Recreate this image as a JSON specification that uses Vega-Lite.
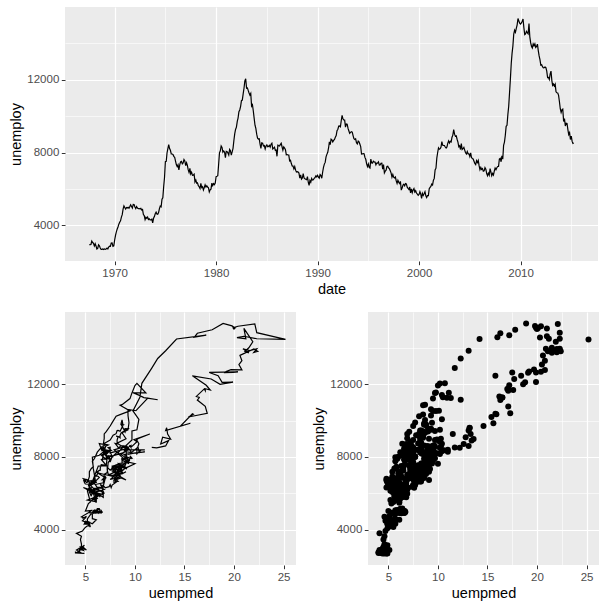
{"$schema":"https://vega.github.io/schema/vega-lite/v6.json","padding":{"left":8,"top":7,"right":8,"bottom":5},"config":{"font":"Liberation Sans","view":{"fill":"#EBEBEB","stroke":null},"axis":{"domain":false,"gridColor":"#FFFFFF","tickColor":"#333333","tickSize":3.7,"tickWidth":1,"labelColor":"#4D4D4D","labelFontSize":11.5,"labelPadding":2.5,"labelFlush":false,"labelOverlap":false,"titleFontSize":14.5,"titleFontWeight":"normal","titleColor":"#000000","titlePadding":3.5,"labelFont":"Liberation Sans","titleFont":"Liberation Sans"}},
"data":{"values":[
{"date":"1967-07-01","unemploy":2944,"uempmed":4.5},{"date":"1967-08-01","unemploy":2945,"uempmed":4.7},{"date":"1967-09-01","unemploy":2958,"uempmed":4.6},{"date":"1967-10-01","unemploy":3143,"uempmed":4.9},{"date":"1967-11-01","unemploy":3066,"uempmed":4.7},{"date":"1967-12-01","unemploy":3018,"uempmed":4.8},
{"date":"1968-01-01","unemploy":2878,"uempmed":5.1},{"date":"1968-02-01","unemploy":3001,"uempmed":4.5},{"date":"1968-03-01","unemploy":2877,"uempmed":4.1},{"date":"1968-04-01","unemploy":2709,"uempmed":4.6},{"date":"1968-05-01","unemploy":2740,"uempmed":4.4},{"date":"1968-06-01","unemploy":2938,"uempmed":4.4},{"date":"1968-07-01","unemploy":2883,"uempmed":4.5},{"date":"1968-08-01","unemploy":2768,"uempmed":4.2},{"date":"1968-09-01","unemploy":2686,"uempmed":4.6},{"date":"1968-10-01","unemploy":2689,"uempmed":4.8},{"date":"1968-11-01","unemploy":2715,"uempmed":4.4},{"date":"1968-12-01","unemploy":2685,"uempmed":4.4},
{"date":"1969-01-01","unemploy":2718,"uempmed":4.4},{"date":"1969-02-01","unemploy":2692,"uempmed":4.9},{"date":"1969-03-01","unemploy":2712,"uempmed":4.0},{"date":"1969-04-01","unemploy":2758,"uempmed":4.0},{"date":"1969-05-01","unemploy":2713,"uempmed":4.2},{"date":"1969-06-01","unemploy":2816,"uempmed":4.4},{"date":"1969-07-01","unemploy":2868,"uempmed":4.4},{"date":"1969-08-01","unemploy":2856,"uempmed":4.4},{"date":"1969-09-01","unemploy":3040,"uempmed":4.7},{"date":"1969-10-01","unemploy":3049,"uempmed":4.5},{"date":"1969-11-01","unemploy":2856,"uempmed":4.8},{"date":"1969-12-01","unemploy":2884,"uempmed":4.6},
{"date":"1970-01-01","unemploy":3201,"uempmed":4.6},{"date":"1970-02-01","unemploy":3453,"uempmed":4.5},{"date":"1970-03-01","unemploy":3635,"uempmed":4.6},{"date":"1970-04-01","unemploy":3797,"uempmed":4.1},{"date":"1970-05-01","unemploy":3919,"uempmed":4.7},{"date":"1970-06-01","unemploy":4071,"uempmed":4.9},{"date":"1970-07-01","unemploy":4175,"uempmed":5.1},{"date":"1970-08-01","unemploy":4256,"uempmed":5.4},{"date":"1970-09-01","unemploy":4456,"uempmed":5.2},{"date":"1970-10-01","unemploy":4591,"uempmed":5.2},{"date":"1970-11-01","unemploy":4898,"uempmed":5.6},{"date":"1970-12-01","unemploy":5076,"uempmed":5.9},
{"date":"1971-01-01","unemploy":4986,"uempmed":6.2},{"date":"1971-02-01","unemploy":4903,"uempmed":6.3},{"date":"1971-03-01","unemploy":4987,"uempmed":6.4},{"date":"1971-04-01","unemploy":4959,"uempmed":6.5},{"date":"1971-05-01","unemploy":4996,"uempmed":6.7},{"date":"1971-06-01","unemploy":4949,"uempmed":5.7},{"date":"1971-07-01","unemploy":5035,"uempmed":6.2},{"date":"1971-08-01","unemploy":5134,"uempmed":6.4},{"date":"1971-09-01","unemploy":5042,"uempmed":5.8},{"date":"1971-10-01","unemploy":4954,"uempmed":6.5},{"date":"1971-11-01","unemploy":5161,"uempmed":6.4},{"date":"1971-12-01","unemploy":5154,"uempmed":6.2},
{"date":"1972-01-01","unemploy":5019,"uempmed":6.2},{"date":"1972-02-01","unemploy":4928,"uempmed":6.6},{"date":"1972-03-01","unemploy":5038,"uempmed":6.6},{"date":"1972-04-01","unemploy":4959,"uempmed":6.7},{"date":"1972-05-01","unemploy":4922,"uempmed":6.6},{"date":"1972-06-01","unemploy":4923,"uempmed":5.4},{"date":"1972-07-01","unemploy":4913,"uempmed":6.1},{"date":"1972-08-01","unemploy":4939,"uempmed":6.0},{"date":"1972-09-01","unemploy":4849,"uempmed":5.6},{"date":"1972-10-01","unemploy":4875,"uempmed":5.7},{"date":"1972-11-01","unemploy":4602,"uempmed":5.7},{"date":"1972-12-01","unemploy":4543,"uempmed":6.1},
{"date":"1973-01-01","unemploy":4326,"uempmed":5.7},{"date":"1973-02-01","unemploy":4452,"uempmed":5.2},{"date":"1973-03-01","unemploy":4394,"uempmed":5.5},{"date":"1973-04-01","unemploy":4459,"uempmed":5.0},{"date":"1973-05-01","unemploy":4329,"uempmed":4.9},{"date":"1973-06-01","unemploy":4363,"uempmed":5.0},{"date":"1973-07-01","unemploy":4305,"uempmed":5.2},{"date":"1973-08-01","unemploy":4305,"uempmed":4.9},{"date":"1973-09-01","unemploy":4350,"uempmed":5.4},{"date":"1973-10-01","unemploy":4144,"uempmed":5.5},{"date":"1973-11-01","unemploy":4396,"uempmed":5.1},{"date":"1973-12-01","unemploy":4489,"uempmed":4.7},
{"date":"1974-01-01","unemploy":4644,"uempmed":5.0},{"date":"1974-02-01","unemploy":4731,"uempmed":5.1},{"date":"1974-03-01","unemploy":4634,"uempmed":4.8},{"date":"1974-04-01","unemploy":4618,"uempmed":5.0},{"date":"1974-05-01","unemploy":4705,"uempmed":4.6},{"date":"1974-06-01","unemploy":4927,"uempmed":5.3},{"date":"1974-07-01","unemploy":5063,"uempmed":5.7},{"date":"1974-08-01","unemploy":5022,"uempmed":5.0},{"date":"1974-09-01","unemploy":5437,"uempmed":5.3},{"date":"1974-10-01","unemploy":5523,"uempmed":5.5},{"date":"1974-11-01","unemploy":6140,"uempmed":5.2},{"date":"1974-12-01","unemploy":6636,"uempmed":5.7},
{"date":"1975-01-01","unemploy":7501,"uempmed":6.3},{"date":"1975-02-01","unemploy":7520,"uempmed":7.1},{"date":"1975-03-01","unemploy":7978,"uempmed":7.2},{"date":"1975-04-01","unemploy":8210,"uempmed":8.7},{"date":"1975-05-01","unemploy":8433,"uempmed":9.4},{"date":"1975-06-01","unemploy":8220,"uempmed":8.8},{"date":"1975-07-01","unemploy":8127,"uempmed":8.6},{"date":"1975-08-01","unemploy":7928,"uempmed":9.2},{"date":"1975-09-01","unemploy":7923,"uempmed":9.2},{"date":"1975-10-01","unemploy":7897,"uempmed":8.6},{"date":"1975-11-01","unemploy":7794,"uempmed":9.5},{"date":"1975-12-01","unemploy":7744,"uempmed":9.0},
{"date":"1976-01-01","unemploy":7534,"uempmed":9.0},{"date":"1976-02-01","unemploy":7326,"uempmed":8.2},{"date":"1976-03-01","unemploy":7230,"uempmed":8.7},{"date":"1976-04-01","unemploy":7330,"uempmed":8.2},{"date":"1976-05-01","unemploy":7053,"uempmed":8.3},{"date":"1976-06-01","unemploy":7322,"uempmed":7.8},{"date":"1976-07-01","unemploy":7490,"uempmed":7.7},{"date":"1976-08-01","unemploy":7518,"uempmed":7.9},{"date":"1976-09-01","unemploy":7380,"uempmed":7.8},{"date":"1976-10-01","unemploy":7430,"uempmed":7.7},{"date":"1976-11-01","unemploy":7620,"uempmed":8.4},{"date":"1976-12-01","unemploy":7545,"uempmed":8.0},
{"date":"1977-01-01","unemploy":7280,"uempmed":7.5},{"date":"1977-02-01","unemploy":7443,"uempmed":7.2},{"date":"1977-03-01","unemploy":7307,"uempmed":7.2},{"date":"1977-04-01","unemploy":7059,"uempmed":7.3},{"date":"1977-05-01","unemploy":6911,"uempmed":7.9},{"date":"1977-06-01","unemploy":7134,"uempmed":6.2},{"date":"1977-07-01","unemploy":6829,"uempmed":7.1},{"date":"1977-08-01","unemploy":6925,"uempmed":7.0},{"date":"1977-09-01","unemploy":6751,"uempmed":6.7},{"date":"1977-10-01","unemploy":6763,"uempmed":6.9},{"date":"1977-11-01","unemploy":6815,"uempmed":7.0},{"date":"1977-12-01","unemploy":6386,"uempmed":6.8},
{"date":"1978-01-01","unemploy":6489,"uempmed":6.5},{"date":"1978-02-01","unemploy":6318,"uempmed":6.7},{"date":"1978-03-01","unemploy":6337,"uempmed":6.2},{"date":"1978-04-01","unemploy":6180,"uempmed":6.1},{"date":"1978-05-01","unemploy":6127,"uempmed":5.7},{"date":"1978-06-01","unemploy":6028,"uempmed":6.0},{"date":"1978-07-01","unemploy":6309,"uempmed":5.8},{"date":"1978-08-01","unemploy":6080,"uempmed":5.8},{"date":"1978-09-01","unemploy":6125,"uempmed":5.6},{"date":"1978-10-01","unemploy":5947,"uempmed":5.9},{"date":"1978-11-01","unemploy":6077,"uempmed":5.5},{"date":"1978-12-01","unemploy":6228,"uempmed":5.6},
{"date":"1979-01-01","unemploy":6109,"uempmed":5.9},{"date":"1979-02-01","unemploy":6173,"uempmed":5.9},{"date":"1979-03-01","unemploy":6109,"uempmed":5.9},{"date":"1979-04-01","unemploy":6069,"uempmed":5.4},{"date":"1979-05-01","unemploy":5840,"uempmed":5.6},{"date":"1979-06-01","unemploy":5959,"uempmed":5.6},{"date":"1979-07-01","unemploy":5996,"uempmed":5.9},{"date":"1979-08-01","unemploy":6320,"uempmed":4.8},{"date":"1979-09-01","unemploy":6190,"uempmed":5.5},{"date":"1979-10-01","unemploy":6296,"uempmed":5.5},{"date":"1979-11-01","unemploy":6238,"uempmed":5.3},{"date":"1979-12-01","unemploy":6325,"uempmed":5.7},
{"date":"1980-01-01","unemploy":6683,"uempmed":5.3},{"date":"1980-02-01","unemploy":6702,"uempmed":5.8},{"date":"1980-03-01","unemploy":6729,"uempmed":6.0},{"date":"1980-04-01","unemploy":7358,"uempmed":5.8},{"date":"1980-05-01","unemploy":7984,"uempmed":5.7},{"date":"1980-06-01","unemploy":8098,"uempmed":6.4},{"date":"1980-07-01","unemploy":8363,"uempmed":7.0},{"date":"1980-08-01","unemploy":8281,"uempmed":7.5},{"date":"1980-09-01","unemploy":8021,"uempmed":7.7},{"date":"1980-10-01","unemploy":8088,"uempmed":7.5},{"date":"1980-11-01","unemploy":8023,"uempmed":7.7},{"date":"1980-12-01","unemploy":7718,"uempmed":7.5},
{"date":"1981-01-01","unemploy":8071,"uempmed":7.4},{"date":"1981-02-01","unemploy":8051,"uempmed":7.1},{"date":"1981-03-01","unemploy":7982,"uempmed":7.1},{"date":"1981-04-01","unemploy":7869,"uempmed":7.4},{"date":"1981-05-01","unemploy":8174,"uempmed":6.9},{"date":"1981-06-01","unemploy":8098,"uempmed":6.6},{"date":"1981-07-01","unemploy":7863,"uempmed":7.1},{"date":"1981-08-01","unemploy":8036,"uempmed":7.2},{"date":"1981-09-01","unemploy":8230,"uempmed":6.8},{"date":"1981-10-01","unemploy":8646,"uempmed":6.8},{"date":"1981-11-01","unemploy":9029,"uempmed":6.9},{"date":"1981-12-01","unemploy":9267,"uempmed":6.9},
{"date":"1982-01-01","unemploy":9397,"uempmed":7.1},{"date":"1982-02-01","unemploy":9705,"uempmed":7.5},{"date":"1982-03-01","unemploy":9895,"uempmed":7.7},{"date":"1982-04-01","unemploy":10244,"uempmed":8.1},{"date":"1982-05-01","unemploy":10335,"uempmed":8.5},{"date":"1982-06-01","unemploy":10538,"uempmed":9.5},{"date":"1982-07-01","unemploy":10849,"uempmed":8.5},{"date":"1982-08-01","unemploy":10881,"uempmed":8.7},{"date":"1982-09-01","unemploy":11217,"uempmed":9.5},{"date":"1982-10-01","unemploy":11529,"uempmed":9.7},{"date":"1982-11-01","unemploy":11938,"uempmed":10.0},{"date":"1982-12-01","unemploy":12051,"uempmed":10.2},
{"date":"1983-01-01","unemploy":11534,"uempmed":11.1},{"date":"1983-02-01","unemploy":11545,"uempmed":9.8},{"date":"1983-03-01","unemploy":11408,"uempmed":10.4},{"date":"1983-04-01","unemploy":11268,"uempmed":10.9},{"date":"1983-05-01","unemploy":11154,"uempmed":12.3},{"date":"1983-06-01","unemploy":11246,"uempmed":11.3},{"date":"1983-07-01","unemploy":10548,"uempmed":10.1},{"date":"1983-08-01","unemploy":10623,"uempmed":9.3},{"date":"1983-09-01","unemploy":10282,"uempmed":9.3},{"date":"1983-10-01","unemploy":9887,"uempmed":9.4},{"date":"1983-11-01","unemploy":9499,"uempmed":9.3},{"date":"1983-12-01","unemploy":9331,"uempmed":8.7},
{"date":"1984-01-01","unemploy":9008,"uempmed":9.1},{"date":"1984-02-01","unemploy":8791,"uempmed":8.3},{"date":"1984-03-01","unemploy":8746,"uempmed":8.3},{"date":"1984-04-01","unemploy":8762,"uempmed":8.2},{"date":"1984-05-01","unemploy":8456,"uempmed":9.1},{"date":"1984-06-01","unemploy":8226,"uempmed":7.5},{"date":"1984-07-01","unemploy":8537,"uempmed":7.5},{"date":"1984-08-01","unemploy":8519,"uempmed":7.3},{"date":"1984-09-01","unemploy":8367,"uempmed":7.6},{"date":"1984-10-01","unemploy":8381,"uempmed":7.2},{"date":"1984-11-01","unemploy":8198,"uempmed":7.2},{"date":"1984-12-01","unemploy":8358,"uempmed":7.3},
{"date":"1985-01-01","unemploy":8423,"uempmed":6.8},{"date":"1985-02-01","unemploy":8321,"uempmed":7.1},{"date":"1985-03-01","unemploy":8339,"uempmed":7.1},{"date":"1985-04-01","unemploy":8395,"uempmed":6.9},{"date":"1985-05-01","unemploy":8302,"uempmed":6.9},{"date":"1985-06-01","unemploy":8460,"uempmed":6.6},{"date":"1985-07-01","unemploy":8513,"uempmed":6.9},{"date":"1985-08-01","unemploy":8196,"uempmed":7.1},{"date":"1985-09-01","unemploy":8248,"uempmed":6.9},{"date":"1985-10-01","unemploy":8298,"uempmed":7.1},{"date":"1985-11-01","unemploy":8128,"uempmed":7.0},{"date":"1985-12-01","unemploy":8138,"uempmed":6.8},
{"date":"1986-01-01","unemploy":7795,"uempmed":6.7},{"date":"1986-02-01","unemploy":8402,"uempmed":6.9},{"date":"1986-03-01","unemploy":8383,"uempmed":6.8},{"date":"1986-04-01","unemploy":8364,"uempmed":6.7},{"date":"1986-05-01","unemploy":8439,"uempmed":6.8},{"date":"1986-06-01","unemploy":8508,"uempmed":7.0},{"date":"1986-07-01","unemploy":8319,"uempmed":6.9},{"date":"1986-08-01","unemploy":8135,"uempmed":7.1},{"date":"1986-09-01","unemploy":8310,"uempmed":7.4},{"date":"1986-10-01","unemploy":8243,"uempmed":7.0},{"date":"1986-11-01","unemploy":8159,"uempmed":7.1},{"date":"1986-12-01","unemploy":7883,"uempmed":7.1},
{"date":"1987-01-01","unemploy":7892,"uempmed":6.9},{"date":"1987-02-01","unemploy":7865,"uempmed":6.6},{"date":"1987-03-01","unemploy":7862,"uempmed":6.6},{"date":"1987-04-01","unemploy":7542,"uempmed":7.1},{"date":"1987-05-01","unemploy":7574,"uempmed":6.6},{"date":"1987-06-01","unemploy":7398,"uempmed":6.5},{"date":"1987-07-01","unemploy":7268,"uempmed":6.5},{"date":"1987-08-01","unemploy":7261,"uempmed":6.4},{"date":"1987-09-01","unemploy":7102,"uempmed":6.0},{"date":"1987-10-01","unemploy":7227,"uempmed":6.3},{"date":"1987-11-01","unemploy":7035,"uempmed":6.2},{"date":"1987-12-01","unemploy":6936,"uempmed":6.0},
{"date":"1988-01-01","unemploy":6953,"uempmed":6.2},{"date":"1988-02-01","unemploy":6929,"uempmed":6.3},{"date":"1988-03-01","unemploy":6876,"uempmed":6.4},{"date":"1988-04-01","unemploy":6601,"uempmed":5.9},{"date":"1988-05-01","unemploy":6779,"uempmed":5.9},{"date":"1988-06-01","unemploy":6546,"uempmed":5.8},{"date":"1988-07-01","unemploy":6605,"uempmed":6.1},{"date":"1988-08-01","unemploy":6843,"uempmed":5.9},{"date":"1988-09-01","unemploy":6604,"uempmed":5.7},{"date":"1988-10-01","unemploy":6568,"uempmed":5.6},{"date":"1988-11-01","unemploy":6537,"uempmed":5.7},{"date":"1988-12-01","unemploy":6518,"uempmed":5.9},
{"date":"1989-01-01","unemploy":6682,"uempmed":5.6},{"date":"1989-02-01","unemploy":6359,"uempmed":5.4},{"date":"1989-03-01","unemploy":6205,"uempmed":5.4},{"date":"1989-04-01","unemploy":6468,"uempmed":5.4},{"date":"1989-05-01","unemploy":6375,"uempmed":5.3},{"date":"1989-06-01","unemploy":6577,"uempmed":5.4},{"date":"1989-07-01","unemploy":6495,"uempmed":5.6},{"date":"1989-08-01","unemploy":6511,"uempmed":5.0},{"date":"1989-09-01","unemploy":6590,"uempmed":4.9},{"date":"1989-10-01","unemploy":6630,"uempmed":4.9},{"date":"1989-11-01","unemploy":6725,"uempmed":4.8},{"date":"1989-12-01","unemploy":6667,"uempmed":4.9},
{"date":"1990-01-01","unemploy":6752,"uempmed":5.1},{"date":"1990-02-01","unemploy":6651,"uempmed":5.3},{"date":"1990-03-01","unemploy":6598,"uempmed":5.1},{"date":"1990-04-01","unemploy":6797,"uempmed":4.8},{"date":"1990-05-01","unemploy":6742,"uempmed":5.2},{"date":"1990-06-01","unemploy":6590,"uempmed":5.2},{"date":"1990-07-01","unemploy":6922,"uempmed":5.4},{"date":"1990-08-01","unemploy":7188,"uempmed":5.4},{"date":"1990-09-01","unemploy":7368,"uempmed":5.6},{"date":"1990-10-01","unemploy":7459,"uempmed":5.8},{"date":"1990-11-01","unemploy":7764,"uempmed":5.7},{"date":"1990-12-01","unemploy":7901,"uempmed":5.9},
{"date":"1991-01-01","unemploy":8015,"uempmed":6.0},{"date":"1991-02-01","unemploy":8265,"uempmed":6.2},{"date":"1991-03-01","unemploy":8586,"uempmed":6.7},{"date":"1991-04-01","unemploy":8439,"uempmed":6.6},{"date":"1991-05-01","unemploy":8736,"uempmed":6.4},{"date":"1991-06-01","unemploy":8692,"uempmed":6.9},{"date":"1991-07-01","unemploy":8586,"uempmed":7.0},{"date":"1991-08-01","unemploy":8666,"uempmed":7.3},{"date":"1991-09-01","unemploy":8722,"uempmed":6.8},{"date":"1991-10-01","unemploy":8842,"uempmed":7.2},{"date":"1991-11-01","unemploy":8931,"uempmed":7.5},{"date":"1991-12-01","unemploy":9198,"uempmed":7.8},
{"date":"1992-01-01","unemploy":9283,"uempmed":8.1},{"date":"1992-02-01","unemploy":9454,"uempmed":8.2},{"date":"1992-03-01","unemploy":9460,"uempmed":8.3},{"date":"1992-04-01","unemploy":9415,"uempmed":8.5},{"date":"1992-05-01","unemploy":9744,"uempmed":8.8},{"date":"1992-06-01","unemploy":10040,"uempmed":8.7},{"date":"1992-07-01","unemploy":9850,"uempmed":8.6},{"date":"1992-08-01","unemploy":9787,"uempmed":8.8},{"date":"1992-09-01","unemploy":9781,"uempmed":8.6},{"date":"1992-10-01","unemploy":9398,"uempmed":9.0},{"date":"1992-11-01","unemploy":9565,"uempmed":9.0},{"date":"1992-12-01","unemploy":9557,"uempmed":9.3},
{"date":"1993-01-01","unemploy":9325,"uempmed":8.6},{"date":"1993-02-01","unemploy":9183,"uempmed":8.5},{"date":"1993-03-01","unemploy":9056,"uempmed":8.5},{"date":"1993-04-01","unemploy":9110,"uempmed":8.4},{"date":"1993-05-01","unemploy":9149,"uempmed":8.1},{"date":"1993-06-01","unemploy":9121,"uempmed":8.3},{"date":"1993-07-01","unemploy":8930,"uempmed":8.2},{"date":"1993-08-01","unemploy":8763,"uempmed":8.2},{"date":"1993-09-01","unemploy":8714,"uempmed":8.3},{"date":"1993-10-01","unemploy":8750,"uempmed":8.0},{"date":"1993-11-01","unemploy":8542,"uempmed":8.3},{"date":"1993-12-01","unemploy":8477,"uempmed":8.3},
{"date":"1994-01-01","unemploy":8630,"uempmed":8.6},{"date":"1994-02-01","unemploy":8583,"uempmed":9.2},{"date":"1994-03-01","unemploy":8470,"uempmed":9.3},{"date":"1994-04-01","unemploy":8331,"uempmed":9.1},{"date":"1994-05-01","unemploy":7915,"uempmed":9.2},{"date":"1994-06-01","unemploy":7927,"uempmed":9.3},{"date":"1994-07-01","unemploy":7946,"uempmed":9.0},{"date":"1994-08-01","unemploy":7933,"uempmed":8.9},{"date":"1994-09-01","unemploy":7734,"uempmed":9.2},{"date":"1994-10-01","unemploy":7632,"uempmed":10.0},{"date":"1994-11-01","unemploy":7375,"uempmed":9.0},{"date":"1994-12-01","unemploy":7230,"uempmed":8.7},
{"date":"1995-01-01","unemploy":7375,"uempmed":8.0},{"date":"1995-02-01","unemploy":7187,"uempmed":8.1},{"date":"1995-03-01","unemploy":7153,"uempmed":8.3},{"date":"1995-04-01","unemploy":7645,"uempmed":8.3},{"date":"1995-05-01","unemploy":7430,"uempmed":9.1},{"date":"1995-06-01","unemploy":7427,"uempmed":7.9},{"date":"1995-07-01","unemploy":7527,"uempmed":8.5},{"date":"1995-08-01","unemploy":7484,"uempmed":8.3},{"date":"1995-09-01","unemploy":7478,"uempmed":7.9},{"date":"1995-10-01","unemploy":7328,"uempmed":8.2},{"date":"1995-11-01","unemploy":7426,"uempmed":8.0},{"date":"1995-12-01","unemploy":7423,"uempmed":8.3},
{"date":"1996-01-01","unemploy":7491,"uempmed":8.3},{"date":"1996-02-01","unemploy":7313,"uempmed":7.8},{"date":"1996-03-01","unemploy":7318,"uempmed":8.3},{"date":"1996-04-01","unemploy":7415,"uempmed":8.6},{"date":"1996-05-01","unemploy":7423,"uempmed":8.6},{"date":"1996-06-01","unemploy":7095,"uempmed":8.3},{"date":"1996-07-01","unemploy":7337,"uempmed":8.3},{"date":"1996-08-01","unemploy":6882,"uempmed":8.4},{"date":"1996-09-01","unemploy":6979,"uempmed":8.5},{"date":"1996-10-01","unemploy":7031,"uempmed":8.3},{"date":"1996-11-01","unemploy":7236,"uempmed":7.7},{"date":"1996-12-01","unemploy":7253,"uempmed":7.8},
{"date":"1997-01-01","unemploy":7158,"uempmed":7.8},{"date":"1997-02-01","unemploy":7102,"uempmed":8.1},{"date":"1997-03-01","unemploy":7000,"uempmed":7.9},{"date":"1997-04-01","unemploy":6873,"uempmed":8.3},{"date":"1997-05-01","unemploy":6655,"uempmed":8.0},{"date":"1997-06-01","unemploy":6799,"uempmed":8.0},{"date":"1997-07-01","unemploy":6655,"uempmed":8.3},{"date":"1997-08-01","unemploy":6608,"uempmed":7.8},{"date":"1997-09-01","unemploy":6656,"uempmed":8.2},{"date":"1997-10-01","unemploy":6454,"uempmed":7.7},{"date":"1997-11-01","unemploy":6308,"uempmed":7.6},{"date":"1997-12-01","unemploy":6476,"uempmed":7.5},
{"date":"1998-01-01","unemploy":6368,"uempmed":7.4},{"date":"1998-02-01","unemploy":6306,"uempmed":7.0},{"date":"1998-03-01","unemploy":6422,"uempmed":6.8},{"date":"1998-04-01","unemploy":5941,"uempmed":6.7},{"date":"1998-05-01","unemploy":6047,"uempmed":6.0},{"date":"1998-06-01","unemploy":6212,"uempmed":6.9},{"date":"1998-07-01","unemploy":6259,"uempmed":6.7},{"date":"1998-08-01","unemploy":6179,"uempmed":6.8},{"date":"1998-09-01","unemploy":6300,"uempmed":6.7},{"date":"1998-10-01","unemploy":6280,"uempmed":5.8},{"date":"1998-11-01","unemploy":6100,"uempmed":6.6},{"date":"1998-12-01","unemploy":6032,"uempmed":6.8},
{"date":"1999-01-01","unemploy":5976,"uempmed":6.9},{"date":"1999-02-01","unemploy":6111,"uempmed":6.8},{"date":"1999-03-01","unemploy":5783,"uempmed":6.8},{"date":"1999-04-01","unemploy":6004,"uempmed":6.2},{"date":"1999-05-01","unemploy":5796,"uempmed":6.5},{"date":"1999-06-01","unemploy":5951,"uempmed":6.3},{"date":"1999-07-01","unemploy":6025,"uempmed":5.8},{"date":"1999-08-01","unemploy":5838,"uempmed":6.5},{"date":"1999-09-01","unemploy":5915,"uempmed":6.0},{"date":"1999-10-01","unemploy":5778,"uempmed":6.1},{"date":"1999-11-01","unemploy":5716,"uempmed":6.2},{"date":"1999-12-01","unemploy":5653,"uempmed":5.8},
{"date":"2000-01-01","unemploy":5708,"uempmed":5.8},{"date":"2000-02-01","unemploy":5858,"uempmed":6.1},{"date":"2000-03-01","unemploy":5733,"uempmed":6.0},{"date":"2000-04-01","unemploy":5481,"uempmed":6.1},{"date":"2000-05-01","unemploy":5758,"uempmed":5.8},{"date":"2000-06-01","unemploy":5651,"uempmed":5.7},{"date":"2000-07-01","unemploy":5747,"uempmed":6.0},{"date":"2000-08-01","unemploy":5853,"uempmed":6.3},{"date":"2000-09-01","unemploy":5625,"uempmed":5.2},{"date":"2000-10-01","unemploy":5534,"uempmed":6.1},{"date":"2000-11-01","unemploy":5639,"uempmed":6.1},{"date":"2000-12-01","unemploy":5634,"uempmed":6.0},
{"date":"2001-01-01","unemploy":6023,"uempmed":5.8},{"date":"2001-02-01","unemploy":6089,"uempmed":6.1},{"date":"2001-03-01","unemploy":6141,"uempmed":6.6},{"date":"2001-04-01","unemploy":6271,"uempmed":5.9},{"date":"2001-05-01","unemploy":6226,"uempmed":6.3},{"date":"2001-06-01","unemploy":6484,"uempmed":6.0},{"date":"2001-07-01","unemploy":6583,"uempmed":6.8},{"date":"2001-08-01","unemploy":7042,"uempmed":6.9},{"date":"2001-09-01","unemploy":7142,"uempmed":7.2},{"date":"2001-10-01","unemploy":7694,"uempmed":7.3},{"date":"2001-11-01","unemploy":8003,"uempmed":7.7},{"date":"2001-12-01","unemploy":8258,"uempmed":8.2},
{"date":"2002-01-01","unemploy":8182,"uempmed":8.4},{"date":"2002-02-01","unemploy":8215,"uempmed":8.3},{"date":"2002-03-01","unemploy":8304,"uempmed":8.4},{"date":"2002-04-01","unemploy":8599,"uempmed":8.9},{"date":"2002-05-01","unemploy":8399,"uempmed":9.5},{"date":"2002-06-01","unemploy":8393,"uempmed":11.0},{"date":"2002-07-01","unemploy":8390,"uempmed":8.9},{"date":"2002-08-01","unemploy":8304,"uempmed":9.0},{"date":"2002-09-01","unemploy":8251,"uempmed":9.5},{"date":"2002-10-01","unemploy":8307,"uempmed":9.6},{"date":"2002-11-01","unemploy":8520,"uempmed":9.3},{"date":"2002-12-01","unemploy":8640,"uempmed":9.6},
{"date":"2003-01-01","unemploy":8520,"uempmed":9.6},{"date":"2003-02-01","unemploy":8618,"uempmed":9.5},{"date":"2003-03-01","unemploy":8588,"uempmed":9.7},{"date":"2003-04-01","unemploy":8842,"uempmed":10.2},{"date":"2003-05-01","unemploy":8957,"uempmed":9.9},{"date":"2003-06-01","unemploy":9266,"uempmed":11.5},{"date":"2003-07-01","unemploy":9011,"uempmed":10.3},{"date":"2003-08-01","unemploy":8896,"uempmed":10.1},{"date":"2003-09-01","unemploy":8921,"uempmed":10.2},{"date":"2003-10-01","unemploy":8732,"uempmed":10.4},{"date":"2003-11-01","unemploy":8576,"uempmed":10.3},{"date":"2003-12-01","unemploy":8317,"uempmed":10.4},
{"date":"2004-01-01","unemploy":8370,"uempmed":10.6},{"date":"2004-02-01","unemploy":8167,"uempmed":10.2},{"date":"2004-03-01","unemploy":8491,"uempmed":10.2},{"date":"2004-04-01","unemploy":8170,"uempmed":9.5},{"date":"2004-05-01","unemploy":8212,"uempmed":9.9},{"date":"2004-06-01","unemploy":8286,"uempmed":11.0},{"date":"2004-07-01","unemploy":8136,"uempmed":8.9},{"date":"2004-08-01","unemploy":7990,"uempmed":9.2},{"date":"2004-09-01","unemploy":7927,"uempmed":9.6},{"date":"2004-10-01","unemploy":8061,"uempmed":9.5},{"date":"2004-11-01","unemploy":7932,"uempmed":9.7},{"date":"2004-12-01","unemploy":7934,"uempmed":9.5},
{"date":"2005-01-01","unemploy":7784,"uempmed":9.4},{"date":"2005-02-01","unemploy":7980,"uempmed":9.2},{"date":"2005-03-01","unemploy":7737,"uempmed":9.3},{"date":"2005-04-01","unemploy":7672,"uempmed":9.0},{"date":"2005-05-01","unemploy":7651,"uempmed":9.1},{"date":"2005-06-01","unemploy":7524,"uempmed":9.0},{"date":"2005-07-01","unemploy":7406,"uempmed":8.8},{"date":"2005-08-01","unemploy":7345,"uempmed":9.2},{"date":"2005-09-01","unemploy":7553,"uempmed":8.4},{"date":"2005-10-01","unemploy":7453,"uempmed":8.6},{"date":"2005-11-01","unemploy":7566,"uempmed":8.5},{"date":"2005-12-01","unemploy":7279,"uempmed":8.7},
{"date":"2006-01-01","unemploy":7064,"uempmed":8.6},{"date":"2006-02-01","unemploy":7184,"uempmed":9.1},{"date":"2006-03-01","unemploy":7072,"uempmed":8.7},{"date":"2006-04-01","unemploy":7120,"uempmed":8.4},{"date":"2006-05-01","unemploy":6980,"uempmed":8.5},{"date":"2006-06-01","unemploy":7001,"uempmed":7.3},{"date":"2006-07-01","unemploy":7175,"uempmed":8.0},{"date":"2006-08-01","unemploy":7091,"uempmed":8.4},{"date":"2006-09-01","unemploy":6847,"uempmed":8.0},{"date":"2006-10-01","unemploy":6727,"uempmed":7.9},{"date":"2006-11-01","unemploy":6872,"uempmed":8.3},{"date":"2006-12-01","unemploy":6762,"uempmed":7.5},
{"date":"2007-01-01","unemploy":7116,"uempmed":8.3},{"date":"2007-02-01","unemploy":6927,"uempmed":8.5},{"date":"2007-03-01","unemploy":6731,"uempmed":9.1},{"date":"2007-04-01","unemploy":6850,"uempmed":8.6},{"date":"2007-05-01","unemploy":6766,"uempmed":8.2},{"date":"2007-06-01","unemploy":6979,"uempmed":7.7},{"date":"2007-07-01","unemploy":7149,"uempmed":8.7},{"date":"2007-08-01","unemploy":7067,"uempmed":8.8},{"date":"2007-09-01","unemploy":7170,"uempmed":8.7},{"date":"2007-10-01","unemploy":7237,"uempmed":8.4},{"date":"2007-11-01","unemploy":7240,"uempmed":8.6},{"date":"2007-12-01","unemploy":7645,"uempmed":8.4},
{"date":"2008-01-01","unemploy":7685,"uempmed":9.0},{"date":"2008-02-01","unemploy":7497,"uempmed":8.7},{"date":"2008-03-01","unemploy":7822,"uempmed":8.7},{"date":"2008-04-01","unemploy":7637,"uempmed":9.4},{"date":"2008-05-01","unemploy":8395,"uempmed":7.9},{"date":"2008-06-01","unemploy":8575,"uempmed":9.0},{"date":"2008-07-01","unemploy":8937,"uempmed":9.7},{"date":"2008-08-01","unemploy":9438,"uempmed":9.7},{"date":"2008-09-01","unemploy":9494,"uempmed":10.2},{"date":"2008-10-01","unemploy":10074,"uempmed":10.4},{"date":"2008-11-01","unemploy":10538,"uempmed":9.8},{"date":"2008-12-01","unemploy":11286,"uempmed":10.5},
{"date":"2009-01-01","unemploy":12058,"uempmed":10.7},{"date":"2009-02-01","unemploy":12898,"uempmed":11.7},{"date":"2009-03-01","unemploy":13426,"uempmed":12.3},{"date":"2009-04-01","unemploy":13853,"uempmed":13.1},{"date":"2009-05-01","unemploy":14499,"uempmed":14.2},{"date":"2009-06-01","unemploy":14707,"uempmed":17.2},{"date":"2009-07-01","unemploy":14601,"uempmed":16.0},{"date":"2009-08-01","unemploy":14814,"uempmed":16.3},{"date":"2009-09-01","unemploy":15009,"uempmed":17.8},{"date":"2009-10-01","unemploy":15352,"uempmed":18.9},{"date":"2009-11-01","unemploy":15219,"uempmed":19.8},{"date":"2009-12-01","unemploy":15098,"uempmed":20.1},
{"date":"2010-01-01","unemploy":15046,"uempmed":20.0},{"date":"2010-02-01","unemploy":15113,"uempmed":19.9},{"date":"2010-03-01","unemploy":15202,"uempmed":20.4},{"date":"2010-04-01","unemploy":15325,"uempmed":22.1},{"date":"2010-05-01","unemploy":14849,"uempmed":22.3},{"date":"2010-06-01","unemploy":14474,"uempmed":25.2},{"date":"2010-07-01","unemploy":14512,"uempmed":22.3},{"date":"2010-08-01","unemploy":14648,"uempmed":21.0},{"date":"2010-09-01","unemploy":14579,"uempmed":20.3},{"date":"2010-10-01","unemploy":14516,"uempmed":21.2},{"date":"2010-11-01","unemploy":15081,"uempmed":21.0},{"date":"2010-12-01","unemploy":14348,"uempmed":21.9},
{"date":"2011-01-01","unemploy":14013,"uempmed":21.5},{"date":"2011-02-01","unemploy":13820,"uempmed":21.1},{"date":"2011-03-01","unemploy":13737,"uempmed":21.5},{"date":"2011-04-01","unemploy":13957,"uempmed":20.9},{"date":"2011-05-01","unemploy":13855,"uempmed":21.6},{"date":"2011-06-01","unemploy":13962,"uempmed":22.3},{"date":"2011-07-01","unemploy":13763,"uempmed":22.0},{"date":"2011-08-01","unemploy":13818,"uempmed":22.4},{"date":"2011-09-01","unemploy":13948,"uempmed":22.0},{"date":"2011-10-01","unemploy":13594,"uempmed":20.6},{"date":"2011-11-01","unemploy":13302,"uempmed":20.8},{"date":"2011-12-01","unemploy":13093,"uempmed":20.5},
{"date":"2012-01-01","unemploy":12797,"uempmed":20.8},{"date":"2012-02-01","unemploy":12813,"uempmed":19.7},{"date":"2012-03-01","unemploy":12713,"uempmed":19.2},{"date":"2012-04-01","unemploy":12646,"uempmed":19.1},{"date":"2012-05-01","unemploy":12660,"uempmed":19.9},{"date":"2012-06-01","unemploy":12692,"uempmed":20.4},{"date":"2012-07-01","unemploy":12656,"uempmed":17.5},{"date":"2012-08-01","unemploy":12471,"uempmed":18.4},{"date":"2012-09-01","unemploy":12115,"uempmed":18.8},{"date":"2012-10-01","unemploy":12124,"uempmed":19.9},{"date":"2012-11-01","unemploy":12005,"uempmed":18.6},{"date":"2012-12-01","unemploy":12298,"uempmed":17.7},
{"date":"2013-01-01","unemploy":12471,"uempmed":15.8},{"date":"2013-02-01","unemploy":11950,"uempmed":17.2},{"date":"2013-03-01","unemploy":11689,"uempmed":17.6},{"date":"2013-04-01","unemploy":11760,"uempmed":17.1},{"date":"2013-05-01","unemploy":11654,"uempmed":17.1},{"date":"2013-06-01","unemploy":11751,"uempmed":17.0},{"date":"2013-07-01","unemploy":11335,"uempmed":16.2},{"date":"2013-08-01","unemploy":11279,"uempmed":16.5},{"date":"2013-09-01","unemploy":11270,"uempmed":16.5},{"date":"2013-10-01","unemploy":11136,"uempmed":16.3},{"date":"2013-11-01","unemploy":10787,"uempmed":17.1},{"date":"2013-12-01","unemploy":10404,"uempmed":17.3},
{"date":"2014-01-01","unemploy":10202,"uempmed":15.4},{"date":"2014-02-01","unemploy":10349,"uempmed":15.9},{"date":"2014-03-01","unemploy":10380,"uempmed":15.8},{"date":"2014-04-01","unemploy":9702,"uempmed":14.6},{"date":"2014-05-01","unemploy":9859,"uempmed":15.6},{"date":"2014-06-01","unemploy":9460,"uempmed":13.1},{"date":"2014-07-01","unemploy":9608,"uempmed":13.2},{"date":"2014-08-01","unemploy":9599,"uempmed":13.2},{"date":"2014-09-01","unemploy":9262,"uempmed":13.3},{"date":"2014-10-01","unemploy":8990,"uempmed":13.6},{"date":"2014-11-01","unemploy":9090,"uempmed":12.8},{"date":"2014-12-01","unemploy":8717,"uempmed":12.6},
{"date":"2015-01-01","unemploy":8903,"uempmed":13.4},{"date":"2015-02-01","unemploy":8610,"uempmed":13.1},{"date":"2015-03-01","unemploy":8504,"uempmed":12.2},{"date":"2015-04-01","unemploy":8526,"uempmed":11.7}
]},
"vconcat":[
{"width":533,"height":254,"mark":{"type":"line","color":"#000000","strokeWidth":1.2},
"encoding":{
"x":{"field":"date","type":"temporal","title":"date","scale":{"type":"utc","domain":[{"year":1965,"month":2,"date":9,"utc":true},{"year":2017,"month":8,"date":20,"utc":true}]},
"axis":{"values":[{"year":1970,"utc":true},{"year":1975,"utc":true},{"year":1980,"utc":true},{"year":1985,"utc":true},{"year":1990,"utc":true},{"year":1995,"utc":true},{"year":2000,"utc":true},{"year":2005,"utc":true},{"year":2010,"utc":true},{"year":2015,"utc":true}],
"labelExpr":"utcyear(datum.value) % 10 === 0 ? utcFormat(datum.value, '%Y') : ''",
"gridWidth":{"condition":{"test":"utcyear(datum.value) % 10 === 0","value":1.2},"value":0.6},
"tickOpacity":{"condition":{"test":"utcyear(datum.value) % 10 === 0","value":1},"value":0}}},
"y":{"field":"unemploy","type":"quantitative","title":"unemploy","scale":{"domain":[2052,15985],"nice":false,"zero":false},
"axis":{"values":[4000,6000,8000,10000,12000,14000],"format":"d","labelExpr":"datum.value % 4000 === 0 ? datum.label : ''",
"gridWidth":{"condition":{"test":"datum.value % 4000 === 0","value":1.2},"value":0.6},
"tickOpacity":{"condition":{"test":"datum.value % 4000 === 0","value":1},"value":0}}}}},
{"spacing":15,"hconcat":[
{"width":231,"height":253,"mark":{"type":"line","color":"#000000","strokeWidth":1.2},
"encoding":{
"x":{"field":"uempmed","type":"quantitative","title":"uempmed","scale":{"domain":[2.94,26.26],"nice":false,"zero":false},
"axis":{"values":[5,7.5,10,12.5,15,17.5,20,22.5,25],"format":"~g","labelExpr":"datum.value % 5 === 0 ? datum.label : ''",
"gridWidth":{"condition":{"test":"datum.value % 5 === 0","value":1.2},"value":0.6},
"tickOpacity":{"condition":{"test":"datum.value % 5 === 0","value":1},"value":0}}},
"y":{"field":"unemploy","type":"quantitative","title":"unemploy","scale":{"domain":[2052,15985],"nice":false,"zero":false},
"axis":{"values":[4000,6000,8000,10000,12000,14000],"format":"d","labelExpr":"datum.value % 4000 === 0 ? datum.label : ''",
"gridWidth":{"condition":{"test":"datum.value % 4000 === 0","value":1.2},"value":0.6},
"tickOpacity":{"condition":{"test":"datum.value % 4000 === 0","value":1},"value":0}}},
"order":{"field":"date","type":"temporal"}}},
{"width":231,"height":253,"mark":{"type":"circle","color":"#000000","opacity":1,"size":36},
"encoding":{
"x":{"field":"uempmed","type":"quantitative","title":"uempmed","scale":{"domain":[2.94,26.26],"nice":false,"zero":false},
"axis":{"values":[5,7.5,10,12.5,15,17.5,20,22.5,25],"format":"~g","labelExpr":"datum.value % 5 === 0 ? datum.label : ''",
"gridWidth":{"condition":{"test":"datum.value % 5 === 0","value":1.2},"value":0.6},
"tickOpacity":{"condition":{"test":"datum.value % 5 === 0","value":1},"value":0}}},
"y":{"field":"unemploy","type":"quantitative","title":"unemploy","scale":{"domain":[2052,15985],"nice":false,"zero":false},
"axis":{"values":[4000,6000,8000,10000,12000,14000],"format":"d","labelExpr":"datum.value % 4000 === 0 ? datum.label : ''",
"gridWidth":{"condition":{"test":"datum.value % 4000 === 0","value":1.2},"value":0.6},
"tickOpacity":{"condition":{"test":"datum.value % 4000 === 0","value":1},"value":0}}}}}
]}
],"spacing":16}
